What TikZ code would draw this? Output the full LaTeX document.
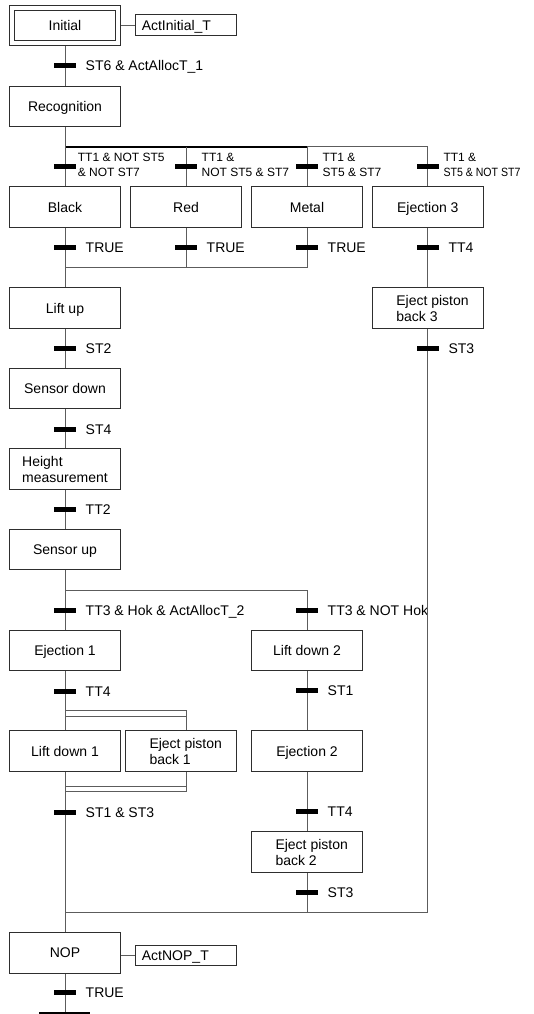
\documentclass[tikz,border=0pt]{standalone}
\usepackage{fontspec}
\setmainfont{Liberation Sans}
\usetikzlibrary{positioning,calc}
\definecolor{Ink}{HTML}{2E2E2E}
\definecolor{Wire}{HTML}{5C5C5C}
\newcommand{\ejind}{\hspace*{9.4pt}}

\begin{document}
\begin{tikzpicture}[x=1pt,y=-1pt,
  stepbox/.style={draw=Ink,line width=1pt,minimum width=111.4pt,minimum height=40.5pt,
    inner sep=0pt,align=left,text depth=0pt,font=\fontsize{14}{16}\selectfont},
  initbox/.style={stepbox,double,double distance=3.9pt,minimum width=105.7pt,
    minimum height=34.8pt,outer sep=2.95pt},
  actbox/.style={draw=Ink,line width=1pt,minimum height=20.7pt,text width=88.2pt,
    inner xsep=6.3pt,inner ysep=0pt,align=left,text depth=0pt,font=\fontsize{14}{16}\selectfont},
  bar/.style={fill=black,minimum width=22pt,minimum height=5pt,inner sep=0pt,outer sep=0pt},
  cond/.style={anchor=west,inner sep=0pt,text height=10pt,text depth=0pt,
    font=\fontsize{14}{16}\selectfont},
  cond2/.style={inner sep=0pt,align=left,text depth=0pt,font=\fontsize{12}{14.8}\selectfont},
  link/.style={draw=Wire,line width=1pt},
  forkline/.style={draw=black,line width=1.8pt}
]
\useasboundingbox (0,0) rectangle (533,1014);

% Initial step and recognition.
\node[initbox] (init) at (65,25.35) {Initial};
\node[actbox] (actinit) at (185.85,25.35) {ActInitial\_T};
\node[bar] (t0) at (65,65.7) {};
\node[cond,right=9.5pt of t0] (c0) {ST6 \& ActAllocT\_1};
\node[stepbox] (recog) at (65,106.4) {Recognition};
\draw[link] (init) -- (actinit);
\draw[link] (init) -- (t0) -- (recog);

% Colour selection.
\coordinate (fork1) at (65,146.7);
\coordinate (join1) at (65,267.3);
\node[bar] (t1a) at (65,166.7) {};
\node[bar] (t1b) at (186,166.7) {};
\node[bar] (t1c) at (307,166.7) {};
\node[bar] (t1d) at (427.8,166.7) {};
\node[cond2,right=1.7pt of t1a,yshift=2pt] (c1a) {TT1 \& NOT ST5\\\& NOT ST7};
\node[cond2,right=4.5pt of t1b,yshift=2pt] (c1b) {TT1 \&\\NOT ST5 \& ST7};
\node[cond2,right=4.5pt of t1c,yshift=2pt] (c1c) {TT1 \&\\ST5 \& ST7};
\node[cond2,right=4.5pt of t1d,yshift=2pt] (c1d) {TT1 \&\\\scalebox{0.88}[1]{ST5 \& NOT ST7}};
\node[stepbox] (black) at (65,207.2) {Black};
\node[stepbox] (red) at (186,207.2) {Red};
\node[stepbox] (metal) at (307,207.2) {Metal};
\node[stepbox] (ej3) at (427.8,207.2) {Ejection 3};
\node[bar] (tblack) at (65,247.5) {};
\node[bar] (tred) at (186,247.5) {};
\node[bar] (tmetal) at (307,247.5) {};
\node[bar] (tej3) at (427.8,247.5) {};
\node[cond,right=9.5pt of tblack] (cblack) {TRUE};
\node[cond,right=9.5pt of tred] (cred) {TRUE};
\node[cond,right=9.5pt of tmetal] (cmetal) {TRUE};
\node[cond,right=9.5pt of tej3] (cej3) {TT4};
\draw[link] (fork1) -| (t1d);
\draw[forkline] (fork1) -- (fork1 -| t1c);
\draw[link] (recog) -- (t1a) -- (black);
\draw[link] (fork1 -| t1b) -- (t1b) -- (red);
\draw[link] (fork1 -| t1c) -- (t1c) -- (metal);
\draw[link] (t1d) -- (ej3);
\draw[link] (black) -- (tblack);
\draw[link] (red) -- (tred) -- (tred |- join1);
\draw[link] (metal) -- (tmetal) |- (join1);

% Ejection 3 branch.
\node[stepbox] (ejb3) at (427.8,308) {\ejind Eject piston\\\ejind back 3};
\node[bar] (tst3r) at (427.8,348) {};
\node[cond,right=9.5pt of tst3r] (cst3r) {ST3};
\draw[link] (ej3) -- (tej3) -- (ejb3) -- (tst3r);

% Height measurement.
\node[stepbox] (lift) at (65,308) {Lift up};
\node[bar] (tst2) at (65,348) {};
\node[cond,right=9.5pt of tst2] (cst2) {ST2};
\node[stepbox] (sdown) at (65,388.5) {Sensor down};
\node[bar] (tst4) at (65,429) {};
\node[cond,right=9.5pt of tst4] (cst4) {ST4};
\node[stepbox] (height) at (65,469.2) {Height\\measurement};
\node[bar] (ttt2) at (65,509.5) {};
\node[cond,right=9.5pt of ttt2] (ctt2) {TT2};
\node[stepbox] (sup) at (65,549.7) {Sensor up};
\draw[link] (tblack) -- (lift) -- (tst2) -- (sdown) -- (tst4) -- (height) -- (ttt2) -- (sup);

% Height ok / not ok.
\coordinate (fork2) at (65,590);
\node[bar] (tt3a) at (65,610) {};
\node[bar] (tt3b) at (307,610) {};
\node[cond,right=9.5pt of tt3a] (c3a) {TT3 \& Hok \& ActAllocT\_2};
\node[cond,right=9.5pt of tt3b] (c3b) {TT3 \& NOT Hok};
\node[stepbox] (ej1) at (65,650.7) {Ejection 1};
\node[stepbox] (ld2) at (307,650.7) {Lift down 2};
\node[bar] (ttt4a) at (65,691) {};
\node[bar] (tst1) at (307,690.7) {};
\node[cond,right=9.5pt of ttt4a] (c4a) {TT4};
\node[cond,right=9.5pt of tst1] (cst1) {ST1};
\node[stepbox] (ld1) at (65,751) {Lift down 1};
\node[stepbox] (ejb1) at (181,751) {\ejind Eject piston\\\ejind back 1};
\node[stepbox] (ej2) at (307,751) {Ejection 2};
\node[bar] (tst13) at (65,812) {};
\node[bar] (ttt4b) at (307,811.7) {};
\node[cond,right=9.5pt of tst13] (c13) {ST1 \& ST3};
\node[cond,right=9.5pt of ttt4b] (c4b) {TT4};
\node[stepbox] (ejb2) at (307,852.2) {\ejind Eject piston\\\ejind back 2};
\node[bar] (tst3b) at (307,892.3) {};
\node[cond,right=9.5pt of tst3b] (cst3b) {ST3};
\draw[link] (fork2) -| (tt3b);
\draw[link] (sup) -- (tt3a) -- (ej1) -- (ttt4a) -- (ld1) -- (tst13);
\draw[link] (tt3b) -- (ld2) -- (tst1) -- (ej2) -- (ttt4b) -- (ejb2) -- (tst3b);

% Parallel branch.
\coordinate (par1) at (65,710.7);
\coordinate (par1e) at (186,710.7);
\coordinate (par2) at (65,786.7);
\coordinate (par2e) at (186,786.7);
\draw[link] (par1) -- (par1e) -- (par1e |- ejb1.north);
\draw[link] ([yshift=-5.3pt]par1) -- ([yshift=-5.3pt]par1e);
\draw[link] (par2) -- (par2e);
\draw[link] ([yshift=-5pt]par2) -- ([yshift=-5pt]par2e) -- (par2e |- ejb1.south);

% Back to NOP.
\coordinate (join3) at (65,912.3);
\node[stepbox] (nop) at (65,953) {NOP};
\node[actbox] (actnop) at (186,955.5) {ActNOP\_T};
\node[bar] (ttrue) at (65,992.7) {};
\node[cond,right=9.5pt of ttrue] (ctrue) {TRUE};
\coordinate (endc) at (65,1012.7);
\draw[link] (tst3r) |- (join3);
\draw[link] (tst3b) -- (tst3b |- join3);
\draw[link] (tst13) -- (nop) -- (ttrue) -- (endc);
\draw[link] (actnop.west -| nop.east) -- (actnop);
\draw[line width=1.6pt] ([xshift=-25.7pt]endc) -- ([xshift=25pt]endc);
\end{tikzpicture}
\end{document}
